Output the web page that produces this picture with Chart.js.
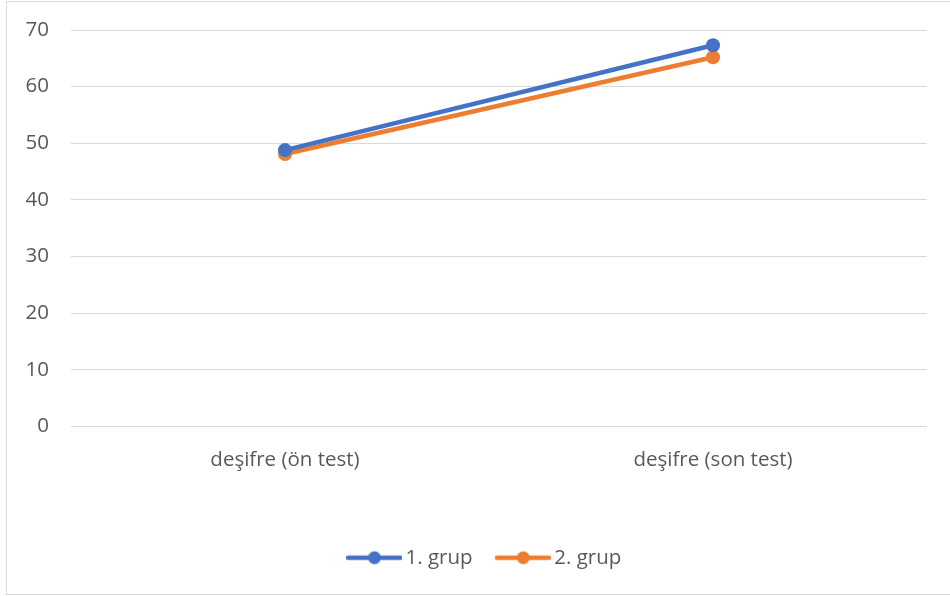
<!DOCTYPE html>
<html>
<head>
<meta charset="utf-8">
<script src="https://cdn.jsdelivr.net/npm/chart.js@4"></script>
<style>
  html, body { margin: 0; padding: 0; background: #ffffff; }
  #wrap { position: relative; width: 950px; height: 596px; overflow: hidden; }
  #frame { position: absolute; left: 6px; top: 1px; width: 960px; height: 594px;
           border: 1px solid #d9d9d9; box-sizing: border-box; }
  #c { position: absolute; left: 0; top: 0; }
</style>
</head>
<body>
<div id="wrap">
  <div id="frame"></div>
  <canvas id="c" width="950" height="596"></canvas>
</div>
<script>
// Okuma puanları: deşifre ön test / son test
const categories = ['deşifre (ön test)', 'deşifre (son test)'];
const grup1 = [48.8, 67.3];
const grup2 = [48.1, 65.2];
const seriesNames = ['1. grup', '2. grup'];
const yTicks = [0, 10, 20, 30, 40, 50, 60, 70];

const BLUE = '#4472C4';
const ORANGE = '#ED7D31';
const TEXT = '#595959';
const FONT = '"Open Sans", "Noto Sans", sans-serif';
const FSIZE = 20.5;

// Legend marker: a short line with a dot in the middle
function legendMarker(color) {
  const cv = document.createElement('canvas');
  cv.width = 56; cv.height = 16;
  const g = cv.getContext('2d');
  g.strokeStyle = color;
  g.lineWidth = 4.5;
  g.lineCap = 'round';
  g.beginPath(); g.moveTo(2, 8); g.lineTo(54, 8); g.stroke();
  g.fillStyle = color;
  g.beginPath(); g.arc(28, 8, 6.5, 0, Math.PI * 2); g.fill();
  return cv;
}
const markers = [legendMarker(BLUE), legendMarker(ORANGE)];

// Center the legend on the framed area rather than the padded canvas
const legendShift = {
  id: 'legendShift',
  afterLayout(chart) {
    if (chart.legend) { chart.legend.left += 24; chart.legend.right += 24; }
  }
};

new Chart(document.getElementById('c'), {
  type: 'line',
  data: {
    labels: categories,
    datasets: [
      { label: seriesNames[0], data: grup1, borderColor: BLUE, backgroundColor: BLUE,
        borderWidth: 4.5, pointRadius: 7, pointHoverRadius: 7, pointBorderWidth: 0 },
      { label: seriesNames[1], data: grup2, borderColor: ORANGE, backgroundColor: ORANGE,
        borderWidth: 4.5, pointRadius: 7, pointHoverRadius: 7, pointBorderWidth: 0 }
    ]
  },
  plugins: [legendShift],
  options: {
    responsive: false,
    animation: false,
    layout: { padding: { left: 0, right: 23, top: 30, bottom: 18 } },
    scales: {
      x: {
        offset: true,
        grid: { display: false, drawTicks: false },
        border: { display: false },
        ticks: { color: TEXT, font: { family: FONT, size: FSIZE }, padding: 21, maxRotation: 0 },
        afterFit(s) { s.height = 91; s.paddingLeft = 0; s.paddingRight = 0; }
      },
      y: {
        min: 0, max: 70,
        afterBuildTicks(s) { s.ticks = yTicks.map(v => ({ value: v })); },
        grid: { color: '#d9d9d9', lineWidth: 1, drawTicks: false },
        border: { display: false },
        ticks: { color: TEXT, font: { family: FONT, size: FSIZE }, padding: 22 },
        afterFit(s) { s.width = 71; s.paddingTop = 0; s.paddingBottom = 0; }
      }
    },
    plugins: {
      tooltip: { enabled: false },
      legend: {
        position: 'bottom',
        labels: {
          color: TEXT,
          font: { family: FONT, size: FSIZE },
          usePointStyle: true,
          pointStyleWidth: 41.5,
          padding: 30,
          generateLabels(chart) {
            return chart.data.datasets.map((d, i) => ({
              text: d.label, datasetIndex: i, pointStyle: markers[i],
              fillStyle: d.borderColor, strokeStyle: d.borderColor, lineWidth: 0,
              fontColor: TEXT, hidden: false
            }));
          }
        }
      }
    }
  }
});
</script>
</body>
</html>
